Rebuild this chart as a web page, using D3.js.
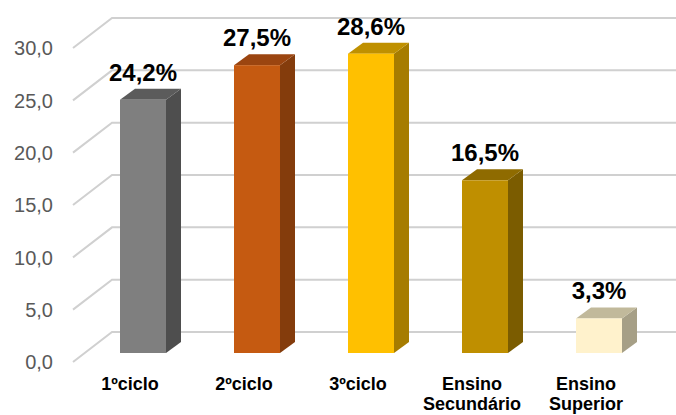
<!DOCTYPE html>
<html><head><meta charset="utf-8">
<script src="https://cdn.jsdelivr.net/npm/d3@7"></script>
<style>body{margin:0;background:#fff}svg{display:block}</style>
</head><body><svg id="c" width="676" height="415"></svg>
<script>
const categories = ["1ºciclo","2ºciclo","3ºciclo","Ensino Secundário","Ensino Superior"];
const categoryLines = [["1ºciclo"],["2ºciclo"],["3ºciclo"],["Ensino","Secundário"],["Ensino","Superior"]];
const values = [24.2, 27.5, 28.6, 16.5, 3.3];
const valueLabels = ["24,2%","27,5%","28,6%","16,5%","3,3%"];
const ticks = [0,5,10,15,20,25,30];
const tickLabels = ["0,0","5,0","10,0","15,0","20,0","25,0","30,0"];
const frontColors = ["#7f7f7f","#c55a11","#ffc000","#bf8f00","#fff2cc"];
const topColors = ["#5b5b5b","#9b4510","#bf9000","#8f6b00","#c1b99b"];
const sideColors = ["#4e4e4e","#843c0c","#a67c00","#7b5c00","#a69f86"];

const svg = d3.select("#c");
const font = "Liberation Sans, Arial, sans-serif";
const yFront = d3.scaleLinear().domain([0,30]).range([362,48]);
const yBack = d3.scaleLinear().domain([0,30]).range([332,18]);
const yBar = d3.scaleLinear().domain([0,30]).range([353,39]);
const x = d3.scaleBand().domain(categories).range([73,643]).padding(0);
const DX = 15, DY = -11, BW = 46, SHIFT = 13;

// gridlines (floor diagonal + back wall)
svg.append("g").selectAll("path").data(ticks).join("path")
  .attr("d", t => `M73,${yFront(t)}L112,${yBack(t)}L676,${yBack(t)}`)
  .attr("fill","none").attr("stroke","#d0d0d0").attr("stroke-width",2);

// y labels
svg.append("g").selectAll("text").data(ticks).join("text")
  .attr("x",53).attr("y",t=>yFront(t)).attr("dy","0.36em")
  .attr("text-anchor","end").attr("font-family",font).attr("font-size",20)
  .attr("fill","#595959").text((t,i)=>tickLabels[i]);

// bars
const bars = svg.append("g").selectAll("g").data(categories).join("g");
bars.each(function(c,i){
  const g = d3.select(this);
  const cx = x(c) + x.bandwidth()/2 + SHIFT;
  const x0 = cx - BW/2, x1 = cx + BW/2;
  const yt = yBar(values[i]), yb = yBar(0);
  g.append("path").attr("d",`M${x1},${yt}L${x1+DX},${yt+DY}L${x1+DX},${yb+DY}L${x1},${yb}Z`).attr("fill",sideColors[i]);
  g.append("path").attr("d",`M${x0},${yt}L${x0+DX},${yt+DY}L${x1+DX},${yt+DY}L${x1},${yt}Z`).attr("fill",topColors[i]);
  g.append("rect").attr("x",x0).attr("y",yt).attr("width",BW).attr("height",yb-yt).attr("fill",frontColors[i]);
  g.append("text").attr("x",cx).attr("y",yt-19).attr("text-anchor","middle")
    .attr("font-family",font).attr("font-size",24).attr("font-weight","bold").attr("fill","#000")
    .text(valueLabels[i]);
});

// category labels
svg.append("g").selectAll("text").data(categories).join("text")
  .attr("x",c=>x(c)+x.bandwidth()/2).attr("y",390)
  .attr("text-anchor","middle").attr("font-family",font).attr("font-size",18).attr("font-weight","bold").attr("fill","#000")
  .each(function(c,i){
    const t = d3.select(this);
    categoryLines[i].forEach((line,j)=>{
      t.append("tspan").attr("x",x(c)+x.bandwidth()/2).attr("dy", j===0?0:20).text(line);
    });
  });
</script></body></html>
